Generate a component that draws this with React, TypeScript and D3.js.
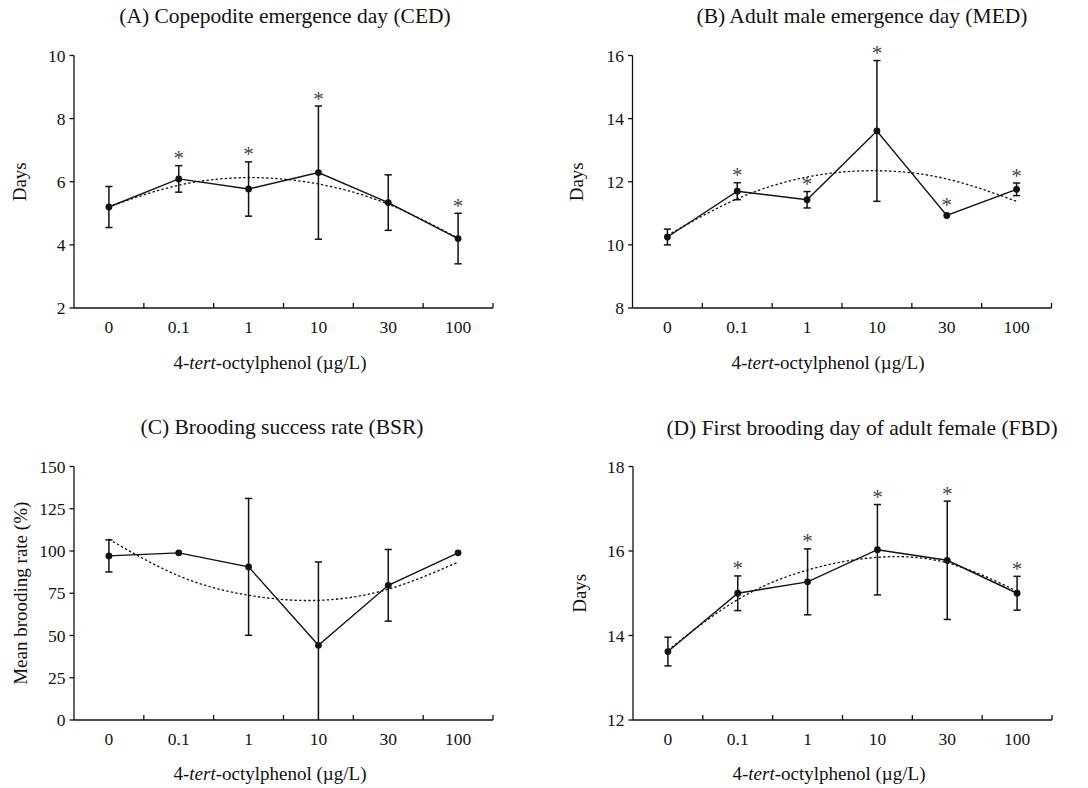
import React from "react";
import * as d3 from "d3";

const categories = ["0", "0.1", "1", "10", "30", "100"];

const cedMean = [5.2, 6.09, 5.77, 6.29, 5.34, 4.2];
const cedSd = [0.65, 0.42, 0.86, 2.11, 0.88, 0.8];
const cedFit = [5.21, 5.89, 6.13, 5.93, 5.29, 4.21];
const cedSig = [false, true, true, true, false, true];
const cedTicks = [2, 4, 6, 8, 10];

const medMean = [10.25, 11.7, 11.43, 13.61, 10.93, 11.76];
const medSd = [0.25, 0.27, 0.26, 2.23, 0, 0.2];
const medFit = [10.3, 11.46, 12.15, 12.35, 12.09, 11.38];
const medSig = [false, true, true, true, true, true];
const medTicks = [8, 10, 12, 14, 16];

const bsrMean = [97.1, 98.9, 90.6, 44.2, 79.7, 98.9];
const bsrSd = [9.5, 0, 40.5, 49.3, 21.2, 0];
const bsrFit = [107, 85.3, 73.8, 70.8, 77.4, 93.4];
const bsrSig = [false, false, false, false, false, false];
const bsrTicks = [0, 25, 50, 75, 100, 125, 150];

const fbdMean = [13.62, 15.0, 15.27, 16.03, 15.78, 15.0];
const fbdSd = [0.34, 0.41, 0.78, 1.07, 1.4, 0.4];
const fbdFit = [13.65, 14.85, 15.55, 15.85, 15.72, 15.05];
const fbdSig = [false, true, true, true, true, true];
const fbdTicks = [12, 14, 16, 18];

const FONT = "'Liberation Serif', 'Times New Roman', serif";
const INK = "#111";

type PanelSpec = {
  title: string;
  yLabel: string;
  mean: number[];
  sd: number[];
  fit: number[];
  sig: boolean[];
  ticks: number[];
  x0: number;
  x1: number;
  yTop: number;
  yBot: number;
  titleX: number;
  titleY: number;
  xLabelX: number;
  xLabelY: number;
  tickLabelY: number;
  yLabelX: number;
};

const panels: PanelSpec[] = [
  {
    title: "(A) Copepodite emergence day (CED)", yLabel: "Days",
    mean: cedMean, sd: cedSd, fit: cedFit, sig: cedSig, ticks: cedTicks,
    x0: 74, x1: 493, yTop: 55.5, yBot: 308,
    titleX: 285, titleY: 23, xLabelX: 270, xLabelY: 369, tickLabelY: 333, yLabelX: 19,
  },
  {
    title: "(B) Adult male emergence day (MED)", yLabel: "Days",
    mean: medMean, sd: medSd, fit: medFit, sig: medSig, ticks: medTicks,
    x0: 632.5, x1: 1051.5, yTop: 55.5, yBot: 308,
    titleX: 862, titleY: 23, xLabelX: 828, xLabelY: 369, tickLabelY: 333, yLabelX: 576,
  },
  {
    title: "(C) Brooding success rate (BSR)", yLabel: "Mean brooding rate (%)",
    mean: bsrMean, sd: bsrSd, fit: bsrFit, sig: bsrSig, ticks: bsrTicks,
    x0: 74, x1: 493, yTop: 466.5, yBot: 720,
    titleX: 282, titleY: 434, xLabelX: 270, xLabelY: 780, tickLabelY: 745, yLabelX: 20,
  },
  {
    title: "(D) First brooding day of adult female (FBD)", yLabel: "Days",
    mean: fbdMean, sd: fbdSd, fit: fbdFit, sig: fbdSig, ticks: fbdTicks,
    x0: 633, x1: 1052, yTop: 466.5, yBot: 720,
    titleX: 862, titleY: 435, xLabelX: 829, xLabelY: 780, tickLabelY: 745, yLabelX: 579,
  },
];

function Panel({ p }: { p: PanelSpec }) {
  const x = d3.scaleBand<string>().domain(categories).range([p.x0, p.x1]).padding(0);
  const yMin = d3.min(p.ticks) as number;
  const yMax = d3.max(p.ticks) as number;
  const y = d3.scaleLinear().domain([yMin, yMax]).range([p.yBot, p.yTop]);
  const cx = (i: number) => (x(categories[i]) as number) + x.bandwidth() / 2;
  const clamp = (v: number) => Math.max(yMin, Math.min(yMax, v));

  const solid = d3.line<number>().x((_, i) => cx(i)).y((d) => y(d));
  const fitLine = d3.line<number>().x((_, i) => cx(i)).y((d) => y(d)).curve(d3.curveNatural);
  const boundaries = categories.map((c) => (x(c) as number) + x.bandwidth());
  const r = 3.4;
  const cap = 3.6;

  return (
    <g>
      <text x={p.titleX} y={p.titleY} textAnchor="middle" fontSize={21.5} fontFamily={FONT} fill={INK}>
        {p.title}
      </text>
      {/* y axis */}
      <line x1={p.x0} x2={p.x0} y1={p.yTop} y2={p.yBot} stroke={INK} strokeWidth={1.3} />
      {p.ticks.map((t) => (
        <g key={t}>
          <line x1={p.x0 - 4.5} x2={p.x0} y1={y(t)} y2={y(t)} stroke={INK} strokeWidth={1.3} />
          <text x={p.x0 - 8.5} y={y(t)} dy="0.35em" textAnchor="end" fontSize={17.5} fontFamily={FONT} fill={INK}>
            {t}
          </text>
        </g>
      ))}
      {/* x axis */}
      <line x1={p.x0} x2={p.x1} y1={p.yBot} y2={p.yBot} stroke={INK} strokeWidth={1.3} />
      {boundaries.map((bx, i) => (
        <line key={i} x1={bx} x2={bx} y1={p.yBot} y2={p.yBot - 5} stroke={INK} strokeWidth={1.3} />
      ))}
      {categories.map((c, i) => (
        <text key={c} x={cx(i)} y={p.tickLabelY} textAnchor="middle" fontSize={17.5} fontFamily={FONT} fill={INK}>
          {c}
        </text>
      ))}
      <text x={p.xLabelX} y={p.xLabelY} textAnchor="middle" fontSize={19} fontFamily={FONT} fill={INK}>
        4-<tspan fontStyle="italic">tert</tspan>-octylphenol (µg/L)
      </text>
      <text
        transform={`translate(${p.yLabelX},${(p.yTop + p.yBot) / 2}) rotate(-90)`}
        textAnchor="middle"
        dy="0.35em"
        fontSize={19}
        fontFamily={FONT}
        fill={INK}
      >
        {p.yLabel}
      </text>
      {/* fit */}
      <path d={fitLine(p.fit) || ""} fill="none" stroke={INK} strokeWidth={1.3} strokeDasharray="2.4,2.2" />
      {/* error bars */}
      {p.mean.map((m, i) => {
        if (!p.sd[i]) return null;
        const top = y(clamp(m + p.sd[i]));
        const bot = y(clamp(m - p.sd[i]));
        const xc = cx(i);
        return (
          <g key={i} stroke={INK} strokeWidth={1.5}>
            <line x1={xc} x2={xc} y1={top} y2={bot} />
            <line x1={xc - cap} x2={xc + cap} y1={top} y2={top} />
            {clamp(m - p.sd[i]) > yMin && <line x1={xc - cap} x2={xc + cap} y1={bot} y2={bot} />}
          </g>
        );
      })}
      <path d={solid(p.mean) || ""} fill="none" stroke={INK} strokeWidth={1.4} />
      {p.mean.map((m, i) => (
        <circle key={i} cx={cx(i)} cy={y(m)} r={r} fill={INK} />
      ))}
      {p.mean.map((m, i) => {
        if (!p.sig[i]) return null;
        const top = p.sd[i] ? y(clamp(m + p.sd[i])) : y(m) - r;
        return (
          <text key={i} x={cx(i)} y={top - 0.5} textAnchor="middle" fontSize={21} fontFamily={FONT} fill="#444">
            *
          </text>
        );
      })}
    </g>
  );
}

export default function App() {
  return (
    <svg
      width={1088}
      height={788}
      style={{ position: "absolute", left: 0, top: 0, background: "#fff" }}
    >
      <rect width={1088} height={788} fill="#fff" />
      {panels.map((p) => (
        <Panel key={p.title} p={p} />
      ))}
    </svg>
  );
}
